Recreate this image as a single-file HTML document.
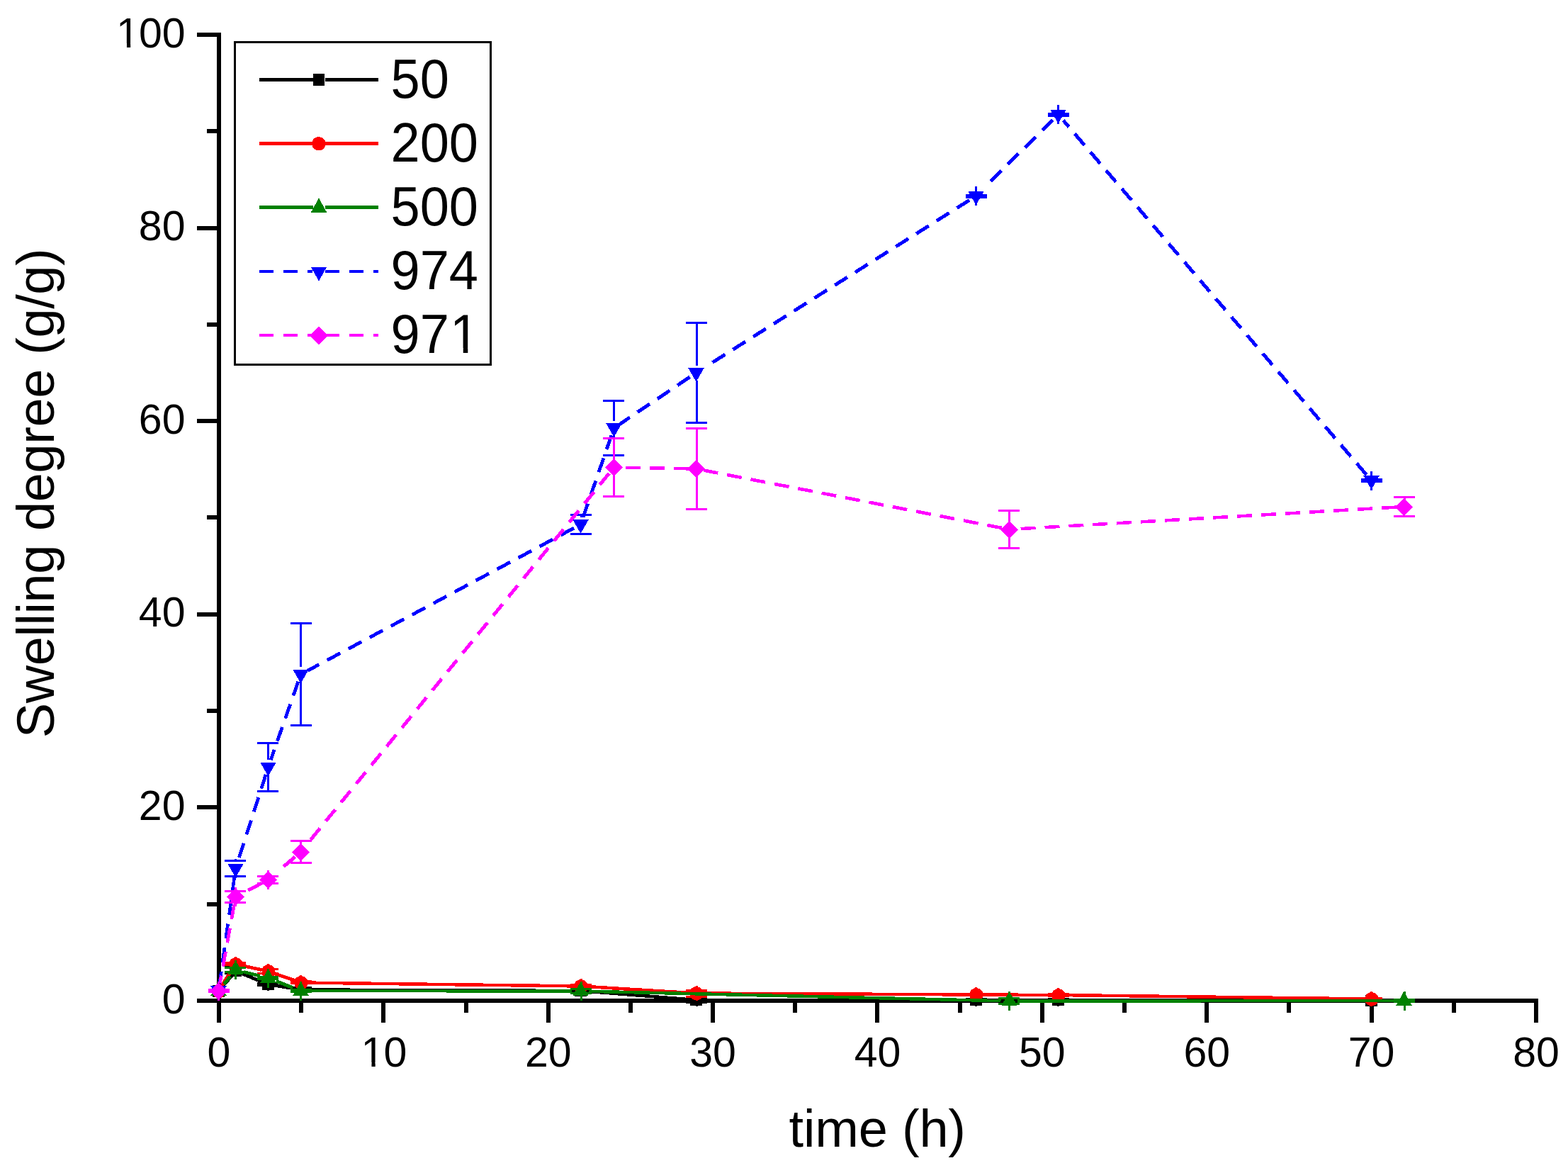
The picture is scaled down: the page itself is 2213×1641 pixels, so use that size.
<!DOCTYPE html>
<html lang="en"><head><meta charset="utf-8"><title>Swelling degree vs time</title>
<style>
html,body{margin:0;padding:0;background:#fff;}
body{width:2213px;height:1641px;overflow:hidden;}
svg{display:block;}
text{font-family:"Liberation Sans",sans-serif;fill:#000;}
.tk{font-size:59px;}
.lg{font-size:74px;}
.tt{font-size:74px;}
</style></head><body>
<svg width="2213" height="1641" viewBox="0 0 2213 1641" role="img" aria-label="Swelling degree (g/g) versus time (h)">
<rect x="0" y="0" width="2213" height="1641" fill="#fff"/>
<g shape-rendering="crispEdges">
<g id="axes" fill="#000">
<rect x="306" y="46" width="6" height="1397"/>
<rect x="278" y="1409" width="1893" height="6"/>
<rect x="278" y="1409" width="28" height="6"/>
<rect x="292" y="1273" width="14" height="6"/>
<rect x="278" y="1136" width="28" height="6"/>
<rect x="292" y="1000" width="14" height="6"/>
<rect x="278" y="864" width="28" height="6"/>
<rect x="292" y="727" width="14" height="6"/>
<rect x="278" y="591" width="28" height="6"/>
<rect x="292" y="455" width="14" height="6"/>
<rect x="278" y="319" width="28" height="6"/>
<rect x="292" y="182" width="14" height="6"/>
<rect x="278" y="46" width="28" height="6"/>
<rect x="306" y="1415" width="6" height="28"/>
<rect x="422" y="1415" width="6" height="14"/>
<rect x="538" y="1415" width="6" height="28"/>
<rect x="655" y="1415" width="6" height="14"/>
<rect x="771" y="1415" width="6" height="28"/>
<rect x="887" y="1415" width="6" height="14"/>
<rect x="1003" y="1415" width="6" height="28"/>
<rect x="1119" y="1415" width="6" height="14"/>
<rect x="1235" y="1415" width="6" height="28"/>
<rect x="1352" y="1415" width="6" height="14"/>
<rect x="1468" y="1415" width="6" height="28"/>
<rect x="1584" y="1415" width="6" height="14"/>
<rect x="1700" y="1415" width="6" height="28"/>
<rect x="1816" y="1415" width="6" height="14"/>
<rect x="1933" y="1415" width="6" height="28"/>
<rect x="2049" y="1415" width="6" height="14"/>
<rect x="2165" y="1415" width="6" height="28"/>
</g>
<g id="s50">
<g stroke="#000000" stroke-width="4.5" fill="none"><line x1="326.7" y1="1376.88" x2="314.3" y2="1391.62" stroke-width="4.94"/><line x1="370.18" y1="1385.56" x2="340.82" y2="1373.44" stroke-width="4.82"/><line x1="415.62" y1="1395.05" x2="387.38" y2="1390.45" stroke-width="4.64"/><line x1="810.5" y1="1397.97" x2="433.5" y2="1396.53" stroke-width="4.5"/><line x1="973.53" y1="1410.28" x2="828.47" y2="1398.72" stroke-width="4.57"/><line x1="1368.5" y1="1411" x2="991.5" y2="1411" stroke-width="4.5"/><line x1="1484.5" y1="1411" x2="1386.5" y2="1411" stroke-width="4.5"/><line x1="1926.5" y1="1411.98" x2="1502.5" y2="1411.02" stroke-width="4.5"/></g>
<rect x="300" y="1390" width="17" height="17" fill="#000000"/><rect x="324" y="1361" width="17" height="17" fill="#000000"/><rect x="370" y="1380" width="17" height="17" fill="#000000"/><rect x="416" y="1388" width="17" height="17" fill="#000000"/><rect x="811" y="1389" width="17" height="17" fill="#000000"/><rect x="974" y="1402" width="17" height="17" fill="#000000"/><rect x="1369" y="1402" width="17" height="17" fill="#000000"/><rect x="1485" y="1402" width="17" height="17" fill="#000000"/><rect x="1927" y="1404" width="17" height="16" fill="#000000"/>
<g fill="#000000"><rect x="294" y="1395" width="30" height="3"/><rect x="294" y="1398" width="30" height="3"/><rect x="307" y="1389" width="3" height="9"/><rect x="307" y="1398" width="3" height="10"/></g><g fill="#000000"><rect x="317" y="1363" width="30" height="3"/><rect x="317" y="1372" width="30" height="3"/><rect x="331" y="1360" width="3" height="6"/><rect x="331" y="1372" width="3" height="7"/></g><g fill="#000000"><rect x="363" y="1386" width="30" height="3"/><rect x="363" y="1389" width="30" height="3"/><rect x="377" y="1379" width="3" height="10"/><rect x="377" y="1389" width="3" height="9"/></g><g fill="#000000"><rect x="410" y="1392" width="30" height="3"/><rect x="410" y="1395" width="30" height="3"/><rect x="423" y="1387" width="3" height="8"/><rect x="423" y="1395" width="3" height="11"/></g><g fill="#000000"><rect x="805" y="1395" width="30" height="3"/><rect x="805" y="1398" width="30" height="3"/><rect x="819" y="1388" width="3" height="10"/><rect x="819" y="1398" width="3" height="9"/></g><g fill="#000000"><rect x="968" y="1406" width="30" height="3"/><rect x="968" y="1413" width="30" height="3"/><rect x="982" y="1401" width="3" height="8"/><rect x="982" y="1413" width="3" height="7"/></g><g fill="#000000"><rect x="1363" y="1408" width="30" height="3"/><rect x="1363" y="1411" width="30" height="3"/><rect x="1376" y="1401" width="3" height="10"/><rect x="1376" y="1411" width="3" height="9"/></g><g fill="#000000"><rect x="1479" y="1408" width="30" height="3"/><rect x="1479" y="1411" width="30" height="3"/><rect x="1492" y="1401" width="3" height="10"/><rect x="1492" y="1411" width="3" height="9"/></g><g fill="#000000"><rect x="1921" y="1409" width="30" height="3"/><rect x="1921" y="1412" width="30" height="3"/><rect x="1934" y="1402" width="3" height="10"/><rect x="1934" y="1412" width="3" height="9"/></g>
</g>
<g id="s200">
<g stroke="#ff0000" stroke-width="4.5" fill="none"><line x1="327.65" y1="1368.08" x2="313.35" y2="1390.42" stroke-width="4.91"/><line x1="369.71" y1="1368.59" x2="341.29" y2="1362.41" stroke-width="4.69"/><line x1="416" y1="1383.54" x2="387" y2="1373.46" stroke-width="4.78"/><line x1="810.5" y1="1391.39" x2="433.5" y2="1386.61" stroke-width="4.51"/><line x1="973.52" y1="1400.95" x2="828.48" y2="1392.05" stroke-width="4.56"/><line x1="1368.5" y1="1403.45" x2="991.5" y2="1401.55" stroke-width="4.5"/><line x1="1484.5" y1="1403.96" x2="1386.5" y2="1403.54" stroke-width="4.5"/><line x1="1926.5" y1="1409.39" x2="1502.5" y2="1404.11" stroke-width="4.51"/></g>
<path d="M306 1389h5v1h-5zM304 1390h10v1h-10zM302 1391h13v1h-13zM301 1392h15v1h-15zM301 1393h16v1h-16zM300 1394h18v1h-18zM300 1395h18v1h-18zM300 1396h18v1h-18zM300 1397h18v1h-18zM300 1398h18v1h-18zM300 1399h18v1h-18zM300 1400h18v1h-18zM300 1401h18v1h-18zM300 1402h18v1h-18zM300 1403h17v1h-17zM301 1404h16v1h-16zM302 1405h14v1h-14zM303 1406h12v1h-12zM305 1407h8v1h-8z" fill="#ff0000"/><path d="M330 1351h5v1h-5zM328 1352h10v1h-10zM326 1353h13v1h-13zM325 1354h15v1h-15zM325 1355h16v1h-16zM324 1356h18v1h-18zM324 1357h18v1h-18zM324 1358h18v1h-18zM324 1359h18v1h-18zM324 1360h18v1h-18zM324 1361h18v1h-18zM324 1362h18v1h-18zM324 1363h18v1h-18zM324 1364h18v1h-18zM324 1365h17v1h-17zM325 1366h16v1h-16zM326 1367h14v1h-14zM327 1368h12v1h-12zM329 1369h8v1h-8z" fill="#ff0000"/><path d="M376 1361h5v1h-5zM374 1362h10v1h-10zM372 1363h13v1h-13zM371 1364h15v1h-15zM371 1365h16v1h-16zM370 1366h18v1h-18zM370 1367h18v1h-18zM370 1368h18v1h-18zM370 1369h18v1h-18zM370 1370h18v1h-18zM370 1371h18v1h-18zM370 1372h18v1h-18zM370 1373h18v1h-18zM370 1374h18v1h-18zM370 1375h17v1h-17zM371 1376h16v1h-16zM372 1377h14v1h-14zM373 1378h12v1h-12zM375 1379h8v1h-8z" fill="#ff0000"/><path d="M422 1377h5v1h-5zM420 1378h10v1h-10zM418 1379h13v1h-13zM417 1380h15v1h-15zM417 1381h16v1h-16zM416 1382h18v1h-18zM416 1383h18v1h-18zM416 1384h18v1h-18zM416 1385h18v1h-18zM416 1386h18v1h-18zM416 1387h18v1h-18zM416 1388h18v1h-18zM416 1389h18v1h-18zM416 1390h18v1h-18zM416 1391h17v1h-17zM417 1392h16v1h-16zM418 1393h14v1h-14zM419 1394h12v1h-12zM421 1395h8v1h-8z" fill="#ff0000"/><path d="M817 1382h5v1h-5zM815 1383h10v1h-10zM813 1384h13v1h-13zM812 1385h15v1h-15zM812 1386h16v1h-16zM811 1387h18v1h-18zM811 1388h18v1h-18zM811 1389h18v1h-18zM811 1390h18v1h-18zM811 1391h18v1h-18zM811 1392h18v1h-18zM811 1393h18v1h-18zM811 1394h18v1h-18zM811 1395h18v1h-18zM811 1396h17v1h-17zM812 1397h16v1h-16zM813 1398h14v1h-14zM814 1399h12v1h-12zM816 1400h8v1h-8z" fill="#ff0000"/><path d="M980 1392h5v1h-5zM978 1393h10v1h-10zM976 1394h13v1h-13zM975 1395h15v1h-15zM975 1396h16v1h-16zM974 1397h18v1h-18zM974 1398h18v1h-18zM974 1399h18v1h-18zM974 1400h18v1h-18zM974 1401h18v1h-18zM974 1402h18v1h-18zM974 1403h18v1h-18zM974 1404h18v1h-18zM974 1405h18v1h-18zM974 1406h17v1h-17zM975 1407h16v1h-16zM976 1408h14v1h-14zM977 1409h12v1h-12zM979 1410h8v1h-8z" fill="#ff0000"/><path d="M1375 1394h5v1h-5zM1373 1395h10v1h-10zM1371 1396h13v1h-13zM1370 1397h15v1h-15zM1370 1398h16v1h-16zM1369 1399h18v1h-18zM1369 1400h18v1h-18zM1369 1401h18v1h-18zM1369 1402h18v1h-18zM1369 1403h18v1h-18zM1369 1404h18v1h-18zM1369 1405h18v1h-18zM1369 1406h18v1h-18zM1369 1407h18v1h-18zM1369 1408h17v1h-17zM1370 1409h16v1h-16zM1371 1410h14v1h-14zM1372 1411h12v1h-12zM1374 1412h8v1h-8z" fill="#ff0000"/><path d="M1491 1395h5v1h-5zM1489 1396h10v1h-10zM1487 1397h13v1h-13zM1486 1398h15v1h-15zM1486 1399h16v1h-16zM1485 1400h18v1h-18zM1485 1401h18v1h-18zM1485 1402h18v1h-18zM1485 1403h18v1h-18zM1485 1404h18v1h-18zM1485 1405h18v1h-18zM1485 1406h18v1h-18zM1485 1407h18v1h-18zM1485 1408h18v1h-18zM1485 1409h17v1h-17zM1486 1410h16v1h-16zM1487 1411h14v1h-14zM1488 1412h12v1h-12zM1490 1413h8v1h-8z" fill="#ff0000"/><path d="M1933 1400h5v1h-5zM1931 1401h10v1h-10zM1929 1402h13v1h-13zM1928 1403h15v1h-15zM1928 1404h16v1h-16zM1927 1405h18v1h-18zM1927 1406h18v1h-18zM1927 1407h18v1h-18zM1927 1408h18v1h-18zM1927 1409h18v1h-18zM1927 1410h18v1h-18zM1927 1411h18v1h-18zM1927 1412h18v1h-18zM1927 1413h18v1h-18zM1927 1414h17v1h-17zM1928 1415h16v1h-16zM1929 1416h14v1h-14zM1930 1417h12v1h-12zM1932 1418h8v1h-8z" fill="#ff0000"/>
<g fill="#ff0000"><rect x="294" y="1395" width="30" height="3"/><rect x="294" y="1398" width="30" height="3"/><rect x="307" y="1388" width="3" height="10"/><rect x="307" y="1398" width="3" height="11"/></g><g fill="#ff0000"><rect x="317" y="1357" width="30" height="3"/><rect x="317" y="1360" width="30" height="3"/><rect x="331" y="1350" width="3" height="10"/><rect x="331" y="1360" width="3" height="11"/></g><g fill="#ff0000"><rect x="363" y="1366" width="30" height="3"/><rect x="363" y="1372" width="30" height="3"/><rect x="377" y="1360" width="3" height="9"/><rect x="377" y="1372" width="3" height="9"/></g><g fill="#ff0000"><rect x="410" y="1383" width="30" height="3"/><rect x="410" y="1386" width="30" height="3"/><rect x="423" y="1376" width="3" height="10"/><rect x="423" y="1386" width="3" height="11"/></g><g fill="#ff0000"><rect x="805" y="1388" width="30" height="3"/><rect x="805" y="1391" width="30" height="3"/><rect x="819" y="1381" width="3" height="10"/><rect x="819" y="1391" width="3" height="11"/></g><g fill="#ff0000"><rect x="968" y="1396" width="30" height="3"/><rect x="968" y="1405" width="30" height="3"/><rect x="982" y="1391" width="3" height="8"/><rect x="982" y="1405" width="3" height="7"/></g><g fill="#ff0000"><rect x="1363" y="1401" width="30" height="3"/><rect x="1363" y="1403" width="30" height="3"/><rect x="1376" y="1393" width="3" height="11"/><rect x="1376" y="1403" width="3" height="11"/></g><g fill="#ff0000"><rect x="1479" y="1401" width="30" height="3"/><rect x="1479" y="1404" width="30" height="3"/><rect x="1492" y="1394" width="3" height="10"/><rect x="1492" y="1404" width="3" height="11"/></g><g fill="#ff0000"><rect x="1921" y="1407" width="30" height="3"/><rect x="1921" y="1410" width="30" height="3"/><rect x="1934" y="1399" width="3" height="11"/><rect x="1934" y="1410" width="3" height="10"/></g>
</g>
<g id="s500">
<g stroke="#008000" stroke-width="4.5" fill="none"><line x1="324.93" y1="1377.81" x2="316.07" y2="1388.69" stroke-width="4.94"/><line x1="366.86" y1="1377.09" x2="344.14" y2="1371.41" stroke-width="4.71"/><line x1="413.33" y1="1393.63" x2="389.67" y2="1384.37" stroke-width="4.81"/><line x1="807.5" y1="1398.48" x2="436.5" y2="1398.02" stroke-width="4.5"/><line x1="1412.5" y1="1412.22" x2="831.5" y2="1398.78" stroke-width="4.52"/><line x1="1969.5" y1="1412.01" x2="1436.5" y2="1412.49" stroke-width="4.5"/></g>
<polygon points="308.5,1384.6 319.7,1404.7 297.3,1404.7" fill="#008000"/><polygon points="332.5,1355.1 343.7,1375.2 321.3,1375.2" fill="#008000"/><polygon points="378.5,1366.6 389.7,1386.7 367.3,1386.7" fill="#008000"/><polygon points="424.5,1384.6 435.7,1404.7 413.3,1404.7" fill="#008000"/><polygon points="819.5,1385.1 830.7,1405.2 808.3,1405.2" fill="#008000"/><polygon points="1424.5,1399.1 1435.7,1419.2 1413.3,1419.2" fill="#008000"/><polygon points="1981.5,1398.6 1992.7,1418.7 1970.3,1418.7" fill="#008000"/>
<g fill="#008000"><rect x="294" y="1395" width="30" height="3"/><rect x="294" y="1398" width="30" height="3"/><rect x="307" y="1385" width="3" height="13"/><rect x="307" y="1398" width="3" height="14"/></g><g fill="#008000"><rect x="317" y="1364" width="30" height="3"/><rect x="317" y="1370" width="30" height="3"/><rect x="331" y="1355" width="3" height="12"/><rect x="331" y="1370" width="3" height="12"/></g><g fill="#008000"><rect x="363" y="1377" width="30" height="3"/><rect x="363" y="1380" width="30" height="3"/><rect x="377" y="1367" width="3" height="13"/><rect x="377" y="1380" width="3" height="14"/></g><g fill="#008000"><rect x="410" y="1395" width="30" height="3"/><rect x="410" y="1398" width="30" height="3"/><rect x="423" y="1385" width="3" height="13"/><rect x="423" y="1398" width="3" height="14"/></g><g fill="#008000"><rect x="805" y="1394" width="30" height="3"/><rect x="805" y="1400" width="30" height="3"/><rect x="819" y="1385" width="3" height="12"/><rect x="819" y="1400" width="3" height="12"/></g><g fill="#008000"><rect x="1409" y="1407" width="30" height="3"/><rect x="1409" y="1415" width="30" height="3"/><rect x="1423" y="1399" width="3" height="11"/><rect x="1423" y="1415" width="3" height="11"/></g><g fill="#008000"><rect x="1967" y="1409" width="30" height="3"/><rect x="1967" y="1412" width="30" height="3"/><rect x="1981" y="1399" width="3" height="13"/><rect x="1981" y="1412" width="3" height="14"/></g>
</g>
<g id="s974">
<g stroke="#0000ff" stroke-width="4.5" fill="none" stroke-dasharray="21 13"><line x1="331.01" y1="1236.2" x2="309.99" y2="1387.3" stroke-width="4.62"/><line x1="375.19" y1="1092.78" x2="335.81" y2="1215.22" stroke-width="4.76"/><line x1="420.92" y1="961.69" x2="382.08" y2="1072.31" stroke-width="4.78"/><line x1="809.98" y1="745.1" x2="434.02" y2="946.4" stroke-width="4.87"/><line x1="862.97" y1="614.21" x2="823.03" y2="729.79" stroke-width="4.78"/><line x1="973.54" y1="532.03" x2="875.46" y2="597.97" stroke-width="4.92"/><line x1="1368.37" y1="282.27" x2="994.67" y2="518.31" stroke-width="4.91"/><line x1="1485.83" y1="169.1" x2="1389.25" y2="264.85" stroke-width="4.95"/><line x1="1928.48" y1="669.79" x2="1500.52" y2="169.71" stroke-width="4.94"/></g>
<polygon points="297.3,1391.3 319.7,1391.3 308.5,1410.9" fill="#0000ff"/><polygon points="321.3,1218.8 343.7,1218.8 332.5,1238.4" fill="#0000ff"/><polygon points="367.3,1075.8 389.7,1075.8 378.5,1095.4" fill="#0000ff"/><polygon points="413.3,944.8 435.7,944.8 424.5,964.4" fill="#0000ff"/><polygon points="808.3,733.3 830.7,733.3 819.5,752.9" fill="#0000ff"/><polygon points="855.3,597.3 877.7,597.3 866.5,616.9" fill="#0000ff"/><polygon points="971.3,519.3 993.7,519.3 982.5,538.9" fill="#0000ff"/><polygon points="1366.3,269.8 1388.7,269.8 1377.5,289.4" fill="#0000ff"/><polygon points="1482.3,154.8 1504.7,154.8 1493.5,174.4" fill="#0000ff"/><polygon points="1924.3,671.3 1946.7,671.3 1935.5,690.9" fill="#0000ff"/>
<g fill="#0000ff"><rect x="294" y="1395" width="30" height="3"/><rect x="294" y="1398" width="30" height="3"/><rect x="307" y="1385" width="3" height="13"/><rect x="307" y="1398" width="3" height="14"/></g><g fill="#0000ff"><rect x="317" y="1213" width="30" height="3"/><rect x="317" y="1235" width="30" height="3"/><rect x="331" y="1212" width="3" height="4"/><rect x="331" y="1235" width="3" height="4"/></g><g fill="#0000ff"><rect x="363" y="1047" width="30" height="3"/><rect x="363" y="1115" width="30" height="3"/><rect x="377" y="1050" width="3" height="22"/><rect x="377" y="1093" width="3" height="22"/></g><g fill="#0000ff"><rect x="410" y="878" width="30" height="3"/><rect x="410" y="1022" width="30" height="3"/><rect x="423" y="881" width="3" height="60"/><rect x="423" y="962" width="3" height="60"/></g><g fill="#0000ff"><rect x="805" y="725" width="30" height="3"/><rect x="805" y="752" width="30" height="3"/><rect x="819" y="728" width="3" height="2"/><rect x="819" y="752" width="3" height="2"/></g><g fill="#0000ff"><rect x="851" y="564" width="30" height="3"/><rect x="851" y="641" width="30" height="3"/><rect x="865" y="567" width="3" height="27"/><rect x="865" y="615" width="3" height="26"/></g><g fill="#0000ff"><rect x="968" y="454" width="30" height="3"/><rect x="968" y="595" width="30" height="3"/><rect x="982" y="457" width="3" height="59"/><rect x="982" y="537" width="3" height="58"/></g><g fill="#0000ff"><rect x="1363" y="274" width="30" height="3"/><rect x="1363" y="277" width="30" height="3"/><rect x="1376" y="263" width="3" height="14"/><rect x="1376" y="277" width="3" height="13"/></g><g fill="#0000ff"><rect x="1479" y="159" width="30" height="3"/><rect x="1479" y="162" width="30" height="3"/><rect x="1492" y="148" width="3" height="14"/><rect x="1492" y="162" width="3" height="13"/></g><g fill="#0000ff"><rect x="1921" y="675" width="30" height="3"/><rect x="1921" y="678" width="30" height="3"/><rect x="1934" y="665" width="3" height="13"/><rect x="1934" y="678" width="3" height="14"/></g>
</g>
<g id="s971">
<g stroke="#ff00ff" stroke-width="4.5" fill="none" stroke-dasharray="21 13"><line x1="330.58" y1="1276.13" x2="310.42" y2="1387.37" stroke-width="4.66"/><line x1="368.92" y1="1246.5" x2="342.08" y2="1260.5" stroke-width="4.87"/><line x1="416.31" y1="1209.04" x2="390.51" y2="1231.19" stroke-width="4.94"/><line x1="859.68" y1="667.87" x2="431.32" y2="1193.63" stroke-width="4.94"/><line x1="971.7" y1="661.31" x2="877.3" y2="659.69" stroke-width="4.52"/><line x1="1413.9" y1="744.95" x2="993.1" y2="663.55" stroke-width="4.67"/><line x1="1970.72" y1="715.62" x2="1435.28" y2="746.38" stroke-width="4.55"/></g>
<polygon points="308.5,1386 320.8,1398.3 308.5,1410.6 296.2,1398.3" fill="#ff00ff"/><polygon points="332.5,1253.5 344.8,1265.8 332.5,1278.1 320.2,1265.8" fill="#ff00ff"/><polygon points="378.5,1229.5 390.8,1241.8 378.5,1254.1 366.2,1241.8" fill="#ff00ff"/><polygon points="424.5,1190 436.8,1202.3 424.5,1214.6 412.2,1202.3" fill="#ff00ff"/><polygon points="866.5,647.5 878.8,659.8 866.5,672.1 854.2,659.8" fill="#ff00ff"/><polygon points="982.5,649.5 994.8,661.8 982.5,674.1 970.2,661.8" fill="#ff00ff"/><polygon points="1424.5,735 1436.8,747.3 1424.5,759.6 1412.2,747.3" fill="#ff00ff"/><polygon points="1981.5,703 1993.8,715.3 1981.5,727.6 1969.2,715.3" fill="#ff00ff"/>
<g fill="#ff00ff"><rect x="294" y="1395" width="30" height="3"/><rect x="294" y="1398" width="30" height="3"/><rect x="307" y="1385" width="3" height="13"/><rect x="307" y="1398" width="3" height="14"/></g><g fill="#ff00ff"><rect x="317" y="1256" width="30" height="3"/><rect x="317" y="1272" width="30" height="3"/><rect x="331" y="1252" width="3" height="7"/><rect x="331" y="1272" width="3" height="7"/></g><g fill="#ff00ff"><rect x="363" y="1235" width="30" height="3"/><rect x="363" y="1245" width="30" height="3"/><rect x="377" y="1228" width="3" height="10"/><rect x="377" y="1245" width="3" height="10"/></g><g fill="#ff00ff"><rect x="410" y="1185" width="30" height="3"/><rect x="410" y="1216" width="30" height="3"/><rect x="423" y="1188" width="3" height="4"/><rect x="423" y="1213" width="3" height="3"/></g><g fill="#ff00ff"><rect x="851" y="617" width="30" height="3"/><rect x="851" y="699" width="30" height="3"/><rect x="865" y="620" width="3" height="29"/><rect x="865" y="670" width="3" height="29"/></g><g fill="#ff00ff"><rect x="968" y="603" width="30" height="3"/><rect x="968" y="717" width="30" height="3"/><rect x="982" y="606" width="3" height="45"/><rect x="982" y="672" width="3" height="45"/></g><g fill="#ff00ff"><rect x="1409" y="719" width="30" height="3"/><rect x="1409" y="772" width="30" height="3"/><rect x="1423" y="722" width="3" height="15"/><rect x="1423" y="758" width="3" height="14"/></g><g fill="#ff00ff"><rect x="1967" y="700" width="30" height="3"/><rect x="1967" y="727" width="30" height="3"/><rect x="1981" y="703" width="3" height="2"/><rect x="1981" y="727" width="3" height="2"/></g>
</g>
<g id="legend">
<rect x="331.5" y="59.5" width="361" height="455" fill="#fff" stroke="#000" stroke-width="3"/>
<g stroke="#000000" stroke-width="4.5"><line x1="366" y1="112.5" x2="442" y2="112.5"/><line x1="459" y1="112.5" x2="534" y2="112.5"/></g>
<rect x="442" y="104" width="16" height="17" fill="#000000"/>
<g stroke="#ff0000" stroke-width="4.5"><line x1="366" y1="202.5" x2="442" y2="202.5"/><line x1="459" y1="202.5" x2="534" y2="202.5"/></g>
<path d="M447 193h5v1h-5zM445 194h10v1h-10zM443 195h13v1h-13zM442 196h15v1h-15zM442 197h16v1h-16zM441 198h18v1h-18zM441 199h18v1h-18zM441 200h18v1h-18zM441 201h18v1h-18zM441 202h18v1h-18zM441 203h18v1h-18zM441 204h18v1h-18zM441 205h18v1h-18zM441 206h18v1h-18zM441 207h17v1h-17zM442 208h16v1h-16zM443 209h14v1h-14zM444 210h12v1h-12zM446 211h8v1h-8z" fill="#ff0000"/>
<g stroke="#008000" stroke-width="4.5"><line x1="366" y1="292.5" x2="442" y2="292.5"/><line x1="459" y1="292.5" x2="534" y2="292.5"/></g>
<polygon points="450,279.6 461.2,299.7 438.8,299.7" fill="#008000"/>
<g stroke="#0000ff" stroke-width="4.5" stroke-dasharray="20 14"><line x1="366" y1="383" x2="441" y2="383"/><line x1="459" y1="383" x2="534" y2="383"/></g>
<polygon points="438.8,376.8 461.2,376.8 450,396.4" fill="#0000ff"/>
<g stroke="#ff00ff" stroke-width="4.5" stroke-dasharray="20 14"><line x1="366" y1="473" x2="441" y2="473"/><line x1="459" y1="473" x2="534" y2="473"/></g>
<polygon points="450,460.5 463,473.5 450,486.5 437,473.5" fill="#ff00ff"/>
</g>
</g>
<defs><clipPath id="c1" clipPathUnits="userSpaceOnUse"><path clip-rule="evenodd" d="M-20 -88.8 H143.47 V37 H-20 Z M87.26 -6.53 H102.25 V2 H87.26 Z M108.79 -6.53 H123.39 V2 H108.79 Z"/></clipPath><clipPath id="c2" clipPathUnits="userSpaceOnUse"><path clip-rule="evenodd" d="M-20 -70.8 H118.44 V29.5 H-20 Z M3.94 -5.41 H15.9 V2 H3.94 Z M21.11 -5.41 H32.75 V2 H21.11 Z"/></clipPath><clipPath id="c3" clipPathUnits="userSpaceOnUse"><path clip-rule="evenodd" d="M-20 -70.8 H85.63 V29.5 H-20 Z M3.94 -5.41 H15.9 V2 H3.94 Z M21.11 -5.41 H32.75 V2 H21.11 Z"/></clipPath></defs>
<g id="labels">
<text class="lg" transform="translate(551.5 137.9) scale(1 1.04)">50</text>
<text class="lg" transform="translate(551.5 227.9) scale(1 1.04)">200</text>
<text class="lg" transform="translate(551.5 317.9) scale(1 1.04)">500</text>
<text class="lg" transform="translate(551.5 407.9) scale(1 1.04)">974</text>
<text class="lg" transform="translate(551.5 497.9) scale(1 1.04)" clip-path="url(#c1)" dx="0 0 1.33">971</text>
<text class="tk" transform="translate(228.69 1429.5) scale(1 1.01)">0</text>
<text class="tk" transform="translate(195.87 1156.9) scale(1 1.01)">20</text>
<text class="tk" transform="translate(195.87 884.3) scale(1 1.01)">40</text>
<text class="tk" transform="translate(195.87 611.7) scale(1 1.01)">60</text>
<text class="tk" transform="translate(195.87 339.1) scale(1 1.01)">80</text>
<text class="tk" transform="translate(163.06 66.5) scale(1 1.01)" clip-path="url(#c2)" dx="1.06 -1.06 0">100</text>
<text class="tk" transform="translate(292.59 1504.5) scale(1 1.01)">0</text>
<text class="tk" transform="translate(508.56 1504.5) scale(1 1.01)" clip-path="url(#c3)" dx="1.06 -1.06">10</text>
<text class="tk" transform="translate(740.94 1504.5) scale(1 1.01)">20</text>
<text class="tk" transform="translate(973.31 1504.5) scale(1 1.01)">30</text>
<text class="tk" transform="translate(1205.69 1504.5) scale(1 1.01)">40</text>
<text class="tk" transform="translate(1438.06 1504.5) scale(1 1.01)">50</text>
<text class="tk" transform="translate(1670.44 1504.5) scale(1 1.01)">60</text>
<text class="tk" transform="translate(1902.81 1504.5) scale(1 1.01)">70</text>
<text class="tk" transform="translate(2135.19 1504.5) scale(1 1.01)">80</text>
<text class="tt" transform="translate(1113.6 1618)" textLength="249.4" lengthAdjust="spacing">time (h)</text>
<text class="tt" transform="translate(76 1041.3) rotate(-90)" textLength="691" lengthAdjust="spacing">Swelling degree (g/g)</text>
</g>
</svg>
</body></html>
